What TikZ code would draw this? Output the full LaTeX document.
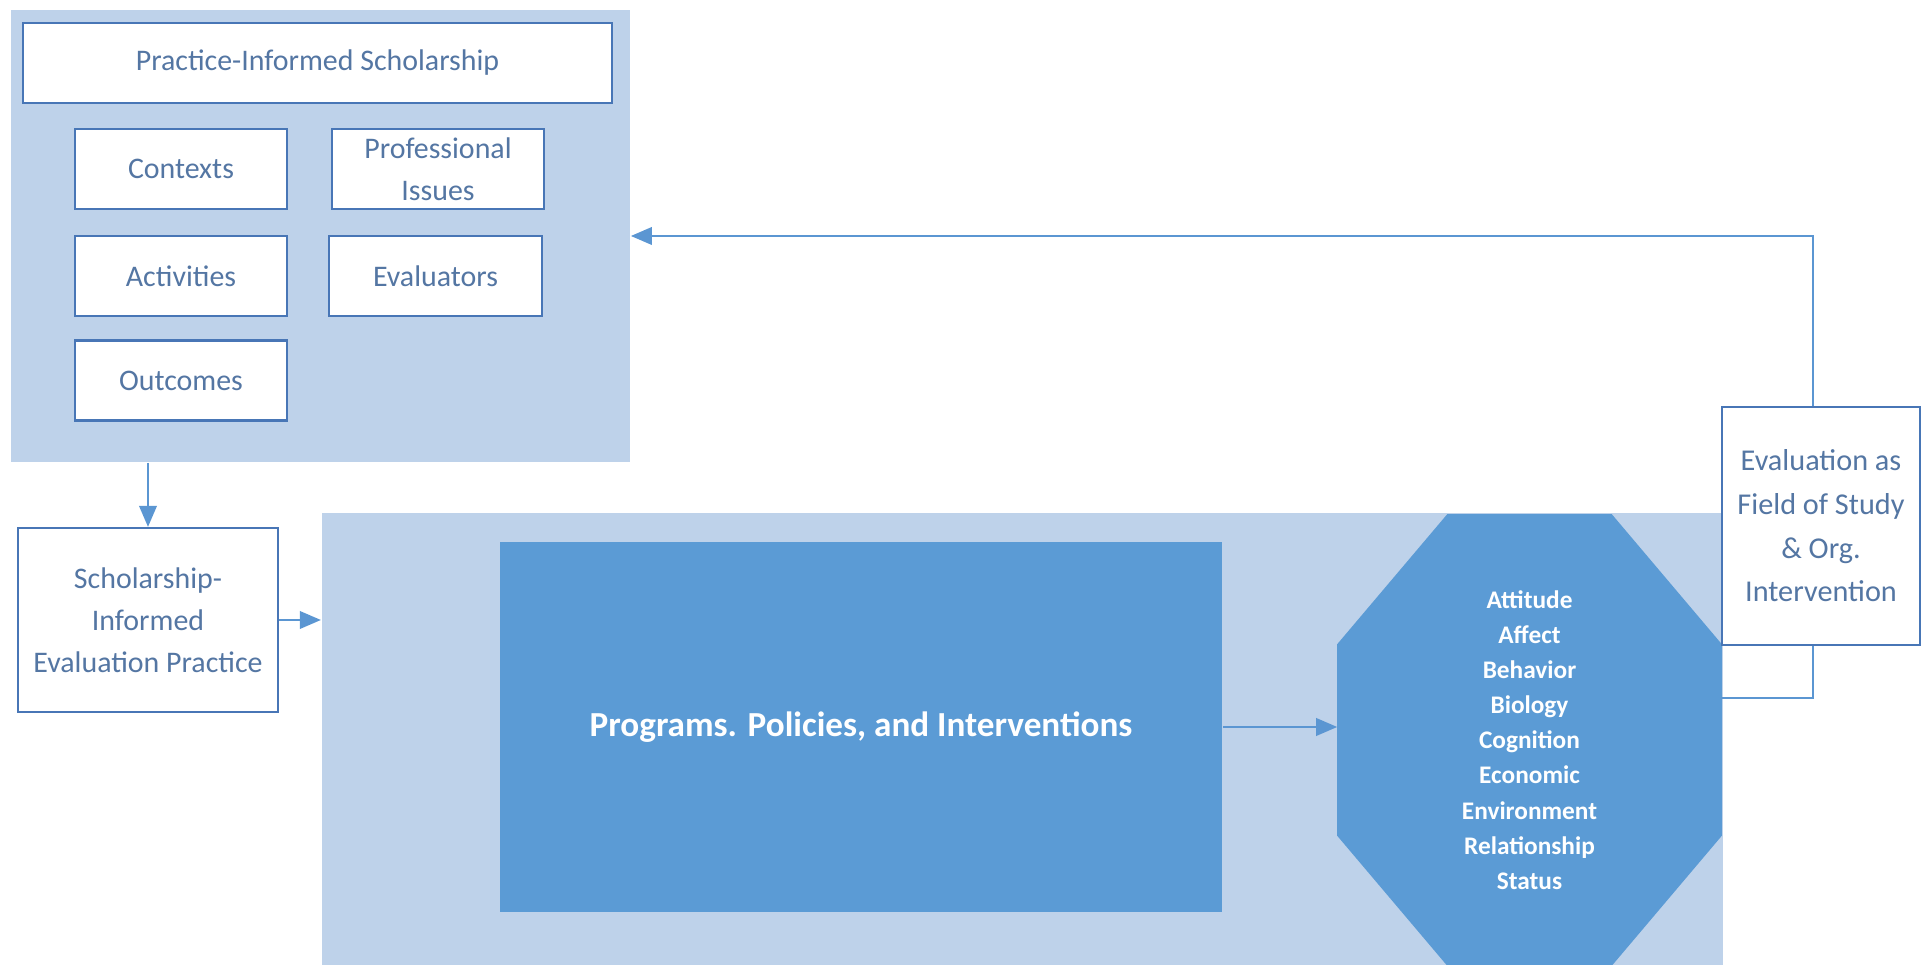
\documentclass[tikz,border=0pt]{standalone}
\usepackage{fontspec}
\setmainfont{Carlito}
\usetikzlibrary{arrows.meta}
\definecolor{panelblue}{RGB}{190,210,234}
\definecolor{darkblue}{RGB}{91,155,213}
\definecolor{boxline}{RGB}{72,118,182}
\definecolor{textblue}{RGB}{84,118,163}
\definecolor{arrowblue}{RGB}{91,150,210}
\begin{document}
\begin{tikzpicture}
  [x=0.01cm, y=-0.01cm,
   panel/.style={fill=panelblue, inner sep=0pt},
   whitebox/.style={draw=boxline, fill=white, line width=0.6pt, text=textblue,
     align=center, inner sep=0pt, minimum width=2.12cm, minimum height=0.8cm,
     font=\fontsize{8.5}{12}\selectfont},
   darkbox/.style={fill=darkblue, text=white, inner sep=0pt, align=center},
   arr/.style={draw=arrowblue, line width=0.6pt, -{Triangle[length=6pt,width=5pt]}},
   link/.style={draw=arrowblue, line width=0.6pt}]
  \clip (0,0) rectangle (1930,965);
  \node (pis) [panel, minimum width=6.19cm, minimum height=4.52cm] at (320.5,236) {};
  \node (title) [whitebox, minimum width=5.89cm] at (317.5,63) {Practice-Informed Scholarship};
  \node (ctx) [whitebox] at (181,169) {Contexts};
  \node (prof) [whitebox] at (438,169) {Professional\\Issues};
  \node (act) [whitebox] at (181,276) {Activities};
  \node (evals) [whitebox] at (435.5,276) {Evaluators};
  \node (outc) [whitebox] at (181,380.5) {Outcomes};
  \node (sch) [whitebox, minimum width=2.6cm, minimum height=1.84cm] at (148,620)
    {Scholarship-\\Informed\\Evaluation Practice};
  \node (tgt) [panel, minimum width=14.01cm, minimum height=4.77cm] at (1022.5,751.5) {};
  \node (prog) [darkbox, minimum width=7.22cm, minimum height=3.7cm,
    font=\bfseries\fontsize{10}{12}\selectfont] at (861,727) {Programs. Policies, and Interventions};
  \path (1529.5,740) node (oct) [minimum width=3.83cm, minimum height=4.5cm, inner sep=0pt] {};
  \fill[darkblue] ([xshift=1.1cm]oct.north west) -- ([xshift=-1.1cm]oct.north east)
    -- ([yshift=-1.3cm]oct.north east) -- ([yshift=1.3cm]oct.south east)
    -- ([xshift=-1.1cm]oct.south east) -- ([xshift=1.1cm]oct.south west)
    -- ([yshift=1.3cm]oct.south west) -- ([yshift=-1.3cm]oct.north west) -- cycle;
  \node (outcomes) [text=white, align=center, font=\bfseries\fontsize{7.2}{10}\selectfont] at (oct)
    {Attitude\\Affect\\Behavior\\Biology\\Cognition\\Economic\\Environment\\Relationship\\Status};
  \node (eval) [whitebox, minimum width=1.98cm, minimum height=2.38cm,
    font=\fontsize{8.6}{12.4}\selectfont] at (1821,526)
    {Evaluation as\\Field of Study\\\& Org.\\Intervention};
  \coordinate (fb) at (1721,698);
  \draw[arr] (pis.south -| sch.north) -- (sch.north);
  \draw[arr] (sch.east) -- (sch.east -| tgt.west);
  \draw[arr] (prog.east) -- (prog.east -| oct.west);
  \draw[arr] ([xshift=-0.08cm]eval.north) |- (pis.east);
  \draw[link] ([xshift=-0.08cm]eval.south) |- (fb);
\end{tikzpicture}
\end{document}
